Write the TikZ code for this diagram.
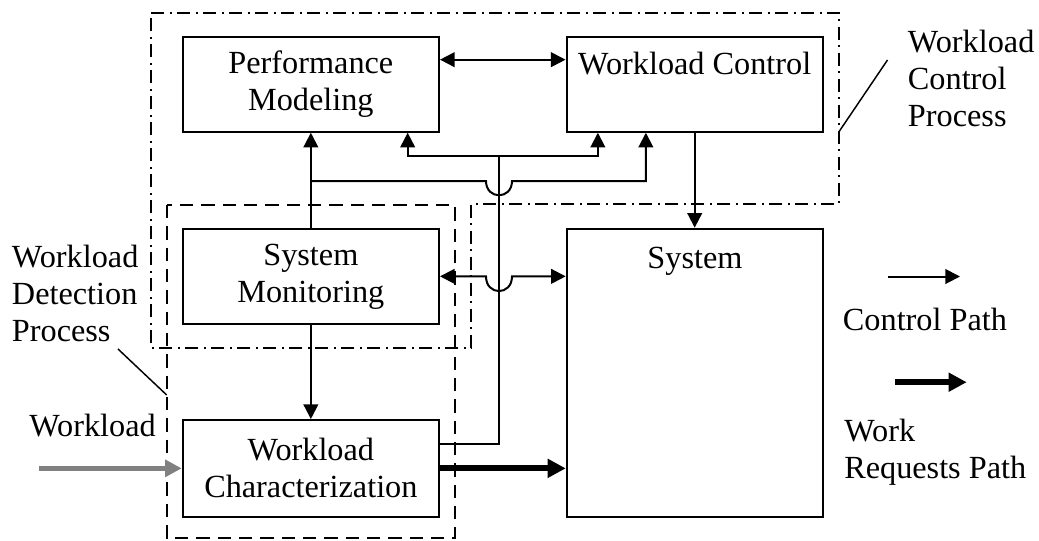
\documentclass[tikz,border=0pt]{standalone}
\usepackage{fontspec}
\setmainfont{Liberation Serif}
\usetikzlibrary{arrows.meta,calc}
\begin{document}
\begin{tikzpicture}[x=0.75pt,y=-0.75pt,
  every node/.style={font=\fontsize{24.2pt}{27.8pt}\selectfont},
  box/.style={draw,line width=1.5pt,minimum width=192.2pt,minimum height=71.3pt,align=center,inner sep=0pt},
  wire/.style={line width=1.5pt},
  arr/.style={wire,-{Triangle[length=11pt,width=11pt]}},
  biarr/.style={wire,{Triangle[length=11pt,width=11pt]}-{Triangle[length=11pt,width=11pt]}},
  workarr/.style={line width=4.5pt,-{Triangle[length=13.5pt,width=13.5pt]}},
  inarr/.style={line width=3.75pt,draw={rgb,255:red,128;green,128;blue,128},-{Triangle[length=12.5pt,width=12.5pt]}},
  ctrlproc/.style={line width=1.5pt,dash pattern=on 10pt off 4pt on 1.5pt off 4pt},
  detproc/.style={line width=1.5pt,dash pattern=on 10pt off 6pt},
  leader/.style={line width=1.1pt},
  lbl/.style={align=left,inner sep=0pt,anchor=base west}
]
\useasboundingbox (0,0) rectangle (1039,540);

% process regions
\draw[ctrlproc] (151,12.7) -- (839,12.7) -- (839,204) -- (471,204) -- (471,348) -- (151,348) -- cycle;
\draw[detproc] (166.7,205) rectangle (455,538);

% boxes
\node[box] (pm) at (310.85,84.2) {Performance\\Modeling};
\node[box] (wc) at (694.7,84.2) {};
\node[anchor=base,inner sep=0pt] (wctxt) at (694.7,74) {Workload Control};
\node[box] (sm) at (310.85,276.35) {System\\Monitoring};
\node[box,minimum height=72.5pt] (wch) at (310.85,468.35) {Workload\\Characterization};
\node[box,minimum width=192.4pt,minimum height=216pt] (sys) at (695,372.7) {};
\node[anchor=base,inner sep=0pt] (systxt) at (695,268) {System};

% connectors
\draw[biarr] ($(pm.north east)+(0,24)$) -- ($(wc.north west)+(0,24)$);
\draw[arr] (sm.north) -- (pm.south);
\coordinate (j1) at (310.85,181);
\draw[arr] (j1) -- (486,181) .. controls (486,200) and (512,200) .. (512,181) -| ($(wc.south west)+(80.3,0)$);
\coordinate (busbot) at (499,444);
\coordinate (bustop) at (499,156);
\draw[wire] (wch.east |- busbot) -- (busbot) -- (bustop);
\draw[arr] (bustop) -| ($(pm.south east)+(-32.3,0)$);
\draw[arr] (bustop) -| ($(wc.south west)+(32.3,0)$);
\draw[biarr] (sm.east) -- (486,276.35) .. controls (486,296) and (512,296) .. (512,276.35) -- (sys.west |- sm.east);
\draw[arr] (wc.south) -- (wc.south |- sys.north);
\draw[arr] (sm.south) -- (wch.north);
\draw[workarr] (wch.east) -- (sys.west |- wch.east);
\coordinate (wlin) at (39,468.35);
\draw[inarr] (wlin) -- (wch.west);

% labels (base anchor = last line)
\node[lbl] (wdp) at (11.7,341.7) {Workload\\Detection\\Process};
\coordinate (ld1) at (118,349);
\coordinate (ld2) at (166.7,395);
\draw[leader] (ld1) -- (ld2);
\node[lbl] (wcp) at (907.7,126.7) {Workload\\Control\\Process};
\coordinate (lc1) at (839,131.7);
\coordinate (lc2) at (887.5,60);
\draw[leader] (lc1) -- (lc2);
\node[lbl] (wlt) at (29,436) {Workload};

% legend
\coordinate (lg1a) at (888,276.5);
\coordinate (lg1b) at (960,276.5);
\draw[arr] (lg1a) -- (lg1b);
\node[lbl] (cpt) at (842.7,330) {Control Path};
\coordinate (lg2a) at (895,382.2);
\coordinate (lg2b) at (966.7,382.2);
\draw[workarr] (lg2a) -- (lg2b);
\node[lbl] (wrp) at (844,478.6) {Work\\Requests Path};
\end{tikzpicture}
\end{document}
